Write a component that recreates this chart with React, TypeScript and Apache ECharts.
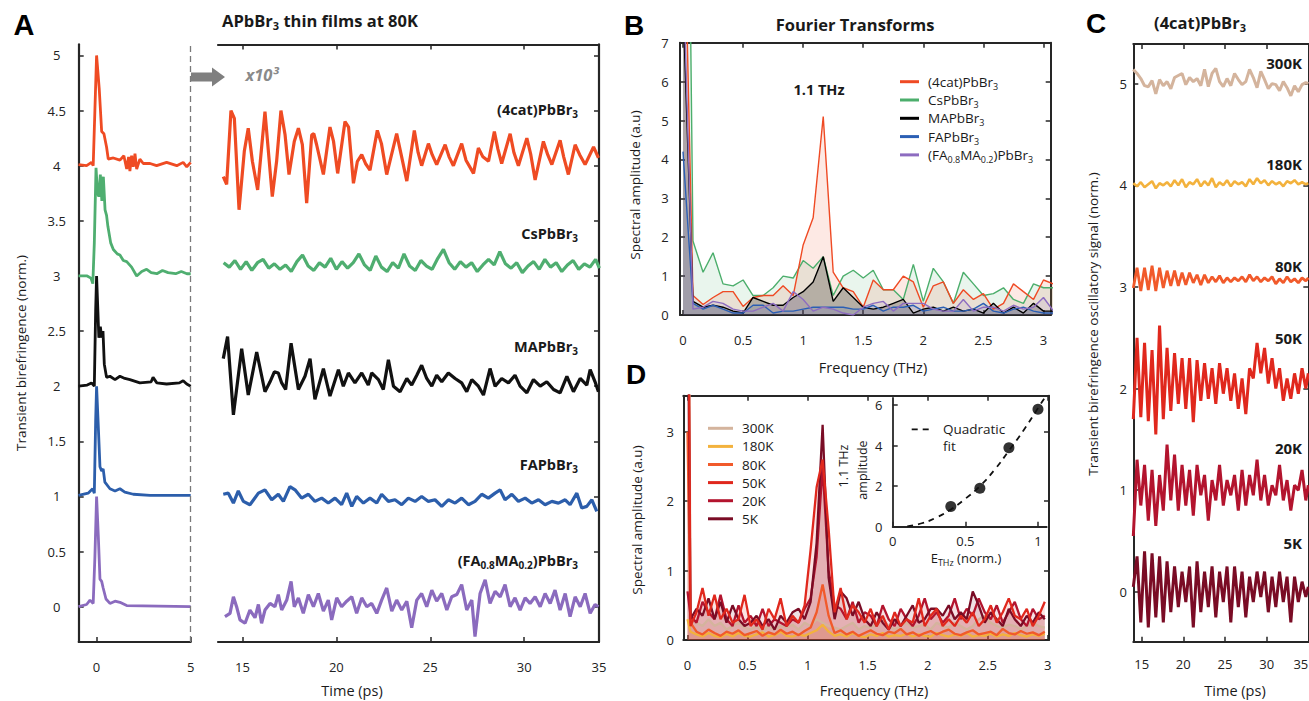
import React, { useEffect, useRef } from 'react';
import * as echarts from 'echarts';

const FF = '"Open Sans", "Noto Sans", sans-serif';
const LF = '"Liberation Sans", Arial, sans-serif';
const AX = '#262626';
const TXT = '#1a1a1a';

// colours
const colCat = '#ef4b23', colCs = '#4fae70', colMA = '#111111', colFA = '#2c5eab', colMix = '#8b6bbe';
const col300 = '#d4b49d', col180 = '#f3b23d', col80 = '#f15a2b', col50 = '#e0281d', col20 = '#b3142e', col5 = '#7a0c25';

// ---------- Panel A : 0-5 ps (time, signal)
const decayCat: number[][] = [[-0.96,4.01],[-0.53,4.0],[-0.27,4.03],[-0.18,4.0],[-0.09,4.5],[0,5.0],[0.14,4.7],[0.27,4.31],[0.39,4.29],[0.53,4.17],[0.62,4.06],[0.89,4.07],[1.24,4.05],[1.45,4.09],[1.6,3.97],[1.7,4.08],[1.77,3.95],[1.86,4.09],[1.95,3.99],[2.04,4.11],[2.13,3.97],[2.3,4.06],[2.48,4.02],[2.84,4.02],[3.19,4.0],[3.72,4.03],[4.26,4.0],[4.6,4.03],[4.79,3.99],[5.0,4.03]];
const decayCs: number[][] = [[-0.96,3.0],[-0.5,3.0],[-0.3,2.98],[-0.2,2.93],[-0.12,3.3],[-0.03,3.98],[0.05,3.75],[0.12,3.72],[0.2,3.92],[0.28,3.68],[0.36,3.9],[0.45,3.6],[0.53,3.55],[0.6,3.45],[0.75,3.3],[0.89,3.24],[1.1,3.2],[1.24,3.19],[1.42,3.14],[1.6,3.13],[1.86,3.08],[2.13,3.0],[2.4,3.04],[2.66,3.06],[2.9,3.03],[3.2,3.02],[3.5,3.05],[3.8,3.03],[4.2,3.02],[4.5,3.04],[4.8,3.02],[5.0,3.02]];
const decayMA: number[][] = [[-0.96,2.0],[-0.5,2.01],[-0.27,2.03],[-0.12,2.0],[-0.05,2.68],[0,3.0],[0.07,2.68],[0.12,2.44],[0.2,2.54],[0.27,2.44],[0.34,2.5],[0.41,2.2],[0.53,2.08],[0.71,2.09],[0.98,2.06],[1.24,2.09],[1.5,2.07],[1.77,2.06],[2.3,2.03],[2.9,2.04],[3.0,2.08],[3.2,2.03],[3.72,2.02],[4.4,2.03],[4.6,2.05],[4.79,2.02],[5.0,2.0]];
const decayFA: number[][] = [[-0.96,1.01],[-0.45,1.03],[-0.21,1.07],[-0.12,1.03],[-0.05,1.68],[0,2.0],[0.09,1.64],[0.18,1.27],[0.27,1.23],[0.35,1.25],[0.44,1.13],[0.71,1.07],[0.98,1.05],[1.24,1.07],[1.5,1.04],[1.95,1.02],[2.84,1.01],[5.0,1.01]];
const decayMix: number[][] = [[-0.96,0.0],[-0.53,0.02],[-0.35,0.06],[-0.18,0.03],[-0.09,0.45],[0,1.0],[0.09,0.65],[0.18,0.25],[0.27,0.23],[0.35,0.17],[0.5,0.07],[0.71,0.03],[0.98,0.05],[1.24,0.04],[1.6,0.01],[5.0,0.0]];

// ---------- Panel A : 14-34 ps (x10^3)
const oscCat: number[][] = [[13.98,3.9],[14.16,3.83],[14.39,4.5],[14.57,4.43],[14.82,3.6],[15.1,4.13],[15.31,4.34],[15.53,4.04],[15.81,3.78],[16.2,4.49],[16.59,3.72],[16.82,4.04],[17.05,4.5],[17.27,4.28],[17.48,3.92],[17.76,4.22],[17.98,4.34],[18.19,4.19],[18.42,3.66],[18.69,4.28],[18.8,4.29],[18.95,4.19],[19.31,3.92],[19.66,4.35],[19.85,4.22],[20.07,3.93],[20.46,4.4],[20.65,4.35],[20.91,3.84],[21.12,4.04],[21.35,4.1],[21.55,4.02],[21.79,3.96],[22.18,4.32],[22.4,4.2],[22.68,3.92],[23.21,4.29],[23.45,4.1],[23.75,3.86],[24.15,4.32],[24.35,4.12],[24.54,4.0],[24.9,4.2],[25.1,4.1],[25.34,4.01],[25.79,4.19],[26.0,4.08],[26.23,4.0],[26.67,4.2],[26.9,4.05],[27.3,3.93],[27.56,4.16],[27.8,4.08],[28.1,4.04],[28.41,4.31],[28.6,4.15],[28.8,4.02],[29.25,4.29],[29.45,4.12],[29.69,4.0],[30.14,4.25],[30.35,4.1],[30.58,3.87],[31.02,4.22],[31.25,4.1],[31.47,4.01],[31.91,4.23],[32.1,4.08],[32.35,3.92],[32.71,4.19],[32.95,4.1],[33.24,4.01],[33.69,4.17],[33.95,4.07]];
const oscCs: number[][] = [[14.0,3.12],[14.3,3.08],[14.6,3.14],[14.9,3.06],[15.2,3.13],[15.5,3.05],[15.8,3.12],[16.1,3.15],[16.4,3.07],[16.7,3.11],[17.0,3.06],[17.3,3.1],[17.6,3.04],[17.9,3.13],[18.2,3.19],[18.5,3.09],[18.8,3.05],[19.1,3.12],[19.4,3.08],[19.7,3.16],[20.0,3.06],[20.3,3.13],[20.6,3.07],[20.9,3.12],[21.2,3.2],[21.5,3.1],[21.8,3.05],[22.1,3.18],[22.4,3.08],[22.7,3.04],[23.0,3.12],[23.3,3.07],[23.6,3.2],[23.9,3.09],[24.2,3.05],[24.5,3.14],[24.8,3.09],[25.1,3.06],[25.4,3.16],[25.7,3.24],[26.0,3.12],[26.3,3.06],[26.6,3.13],[26.9,3.08],[27.2,3.12],[27.5,3.04],[27.8,3.1],[28.1,3.15],[28.4,3.1],[28.7,3.22],[29.0,3.11],[29.3,3.07],[29.6,3.12],[29.9,3.03],[30.2,3.09],[30.5,3.13],[30.8,3.06],[31.1,3.15],[31.4,3.08],[31.7,3.12],[32.0,3.04],[32.3,3.1],[32.6,3.14],[32.9,3.06],[33.2,3.11],[33.5,3.08],[33.8,3.15],[34.0,3.07]];
const oscMA: number[][] = [[13.98,2.25],[14.21,2.45],[14.52,1.74],[14.96,2.34],[15.31,1.92],[15.76,2.31],[16.2,1.95],[16.47,2.04],[16.7,2.13],[16.91,2.12],[17.09,2.03],[17.3,1.97],[17.59,2.39],[17.98,1.97],[18.33,2.09],[18.6,2.25],[18.86,1.88],[19.31,2.16],[19.66,1.91],[20.11,2.15],[20.37,2.0],[20.64,2.12],[20.99,2.03],[21.35,2.12],[21.7,2.01],[21.88,2.12],[22.24,2.06],[22.5,1.97],[22.77,2.24],[23.04,2.0],[23.39,1.95],[23.75,2.07],[24.01,2.01],[24.28,2.1],[24.54,2.19],[24.81,2.07],[25.08,2.0],[25.34,2.1],[25.61,2.04],[25.96,2.12],[26.32,2.07],[26.67,2.03],[26.94,1.95],[27.21,2.06],[27.56,2.0],[27.83,1.92],[28.18,2.16],[28.45,2.0],[28.8,2.07],[29.16,2.03],[29.51,2.1],[29.78,2.0],[30.14,1.94],[30.49,2.06],[30.85,2.0],[31.2,2.04],[31.56,1.97],[31.91,1.94],[32.27,2.09],[32.62,1.95],[32.98,2.07],[33.33,2.01],[33.51,2.15],[33.77,2.04],[33.95,1.95]];
const oscFA: number[][] = [[13.98,1.02],[14.25,1.03],[14.52,0.94],[14.78,1.05],[15.05,0.955],[15.4,0.925],[15.85,1.03],[16.2,1.06],[16.56,0.97],[16.91,1.02],[17.18,0.955],[17.53,1.09],[17.8,1.06],[18.15,0.985],[18.51,1.02],[18.86,0.955],[19.22,0.985],[19.57,0.94],[19.93,0.985],[20.28,0.925],[20.55,1.03],[20.82,0.91],[21.08,1.0],[21.44,0.94],[21.79,0.985],[22.15,0.94],[22.41,1.02],[22.77,0.955],[23.12,0.97],[23.48,0.925],[23.83,0.985],[24.19,0.955],[24.54,1.0],[24.9,0.955],[25.25,0.97],[25.61,0.91],[25.96,0.97],[26.32,0.94],[26.67,0.985],[27.03,0.925],[27.38,0.955],[27.74,1.02],[28.09,0.985],[28.45,1.03],[28.72,1.06],[28.98,0.97],[29.34,1.02],[29.69,0.955],[30.05,0.985],[30.4,0.94],[30.76,0.97],[31.11,0.925],[31.47,0.955],[31.82,0.94],[32.18,0.97],[32.44,0.925],[32.8,1.03],[33.06,0.895],[33.33,0.91],[33.6,0.97],[33.86,0.865]];
const oscMix: number[][] = [[14.07,-0.09],[14.34,-0.06],[14.52,0.09],[14.69,0.0],[14.87,-0.12],[15.14,-0.15],[15.4,-0.03],[15.67,-0.1],[15.85,0.02],[16.02,-0.15],[16.2,-0.03],[16.47,0.03],[16.73,0.0],[16.91,0.11],[17.09,-0.03],[17.36,0.06],[17.59,0.23],[17.76,0.0],[17.98,0.08],[18.24,-0.06],[18.51,0.11],[18.78,0.0],[19.04,0.12],[19.31,-0.04],[19.57,0.06],[19.75,-0.12],[20.02,0.08],[20.28,0.0],[20.55,0.05],[20.82,0.09],[21.08,-0.06],[21.35,0.08],[21.62,0.0],[21.88,0.03],[22.15,-0.06],[22.41,0.06],[22.68,0.17],[22.95,-0.04],[23.21,0.06],[23.48,-0.03],[23.75,0.05],[24.01,-0.19],[24.28,0.06],[24.54,0.12],[24.81,0.0],[25.08,0.15],[25.34,0.05],[25.61,0.12],[25.88,-0.03],[26.14,0.09],[26.41,0.11],[26.67,0.2],[26.94,-0.03],[27.21,0.06],[27.38,-0.27],[27.65,0.12],[27.92,0.245],[28.18,0.03],[28.45,0.14],[28.72,0.09],[28.98,0.2],[29.25,0.0],[29.51,0.08],[29.78,-0.03],[30.05,0.08],[30.31,0.03],[30.58,0.09],[30.85,0.0],[31.11,0.12],[31.38,0.03],[31.64,0.15],[31.91,-0.03],[32.18,0.12],[32.44,-0.09],[32.71,0.09],[32.98,0.0],[33.24,0.12],[33.51,-0.06],[33.77,0.02],[33.95,0.0]];

// ---------- Panel B : Fourier transforms
const fB = [0,0.083,0.167,0.25,0.333,0.417,0.5,0.583,0.667,0.75,0.833,0.917,1.0,1.083,1.167,1.25,1.333,1.417,1.5,1.583,1.667,1.75,1.833,1.917,2.0,2.083,2.167,2.25,2.333,2.417,2.5,2.583,2.667,2.75,2.833,2.917,3.0,3.083];
const ftCat = [12,0.5,0.27,0.45,0.6,0.6,0.22,0.45,0.5,0.5,0.75,0.5,1.8,2.5,5.1,1.1,0.7,0.6,0.2,0.9,0.65,0.65,1.0,0.85,0.2,0.75,0.85,0.3,0.65,0.4,0.55,0.15,0.3,0.8,0.6,0.4,0.9,0.8];
const ftCs = [25,1.9,1.1,1.6,0.8,0.75,0.9,0.5,0.5,0.7,1.0,0.95,1.4,1.2,1.5,0.5,1.0,1.15,0.95,1.15,0.65,0.65,0.4,1.3,0.35,1.2,0.85,0.3,1.1,0.8,0.5,0.55,0.7,0.4,0.3,0.8,0.7,0.7];
const ftMA = [8,0.35,0.2,0.25,0.2,0.1,0.05,0.45,0.35,0.25,0.25,0.45,0.6,0.85,1.5,0.35,0.7,0.45,0.2,0.15,0.2,0.3,0.4,0.05,0.15,0.2,0.1,0.2,0.1,0.15,0.05,0.3,0.05,0.2,0.05,0.3,0.1,0.1];
const ftFA = [4.2,0.3,0.15,0.25,0.15,0.05,0.05,0.25,0.25,0.05,0.1,0.1,0.15,0.2,0.2,0.2,0.2,0.15,0.15,0.25,0.1,0.2,0.2,0.25,0.1,0.15,0.2,0.1,0.1,0.15,0.3,0.1,0.05,0.15,0.2,0.1,0.05,0.05];
const ftMix = [9,0.15,0.2,0.35,0.3,0.15,0.1,0.1,0.2,0.3,0.1,0.6,0.4,0.1,0.2,0.15,0.05,0.0,0.2,0.3,0.35,0.1,0.3,0.3,0.3,0.15,0.1,0.1,0.4,0.1,0.2,0.2,0.1,0.25,0.15,0.2,0.45,0.1];
const namesB = ['(4cat)PbBr3','CsPbBr3','MAPbBr3','FAPbBr3','(FA0.8MA0.2)PbBr3'];

// ---------- Panel D : temperature spectra
const fD = [0,0.025,0.075,0.125,0.175,0.225,0.275,0.325,0.375,0.425,0.475,0.525,0.575,0.625,0.675,0.725,0.775,0.825,0.875,0.925,0.975,1.025,1.075,1.125,1.175,1.225,1.275,1.325,1.375,1.425,1.475,1.525,1.575,1.625,1.675,1.725,1.775,1.825,1.875,1.925,1.975,2.025,2.075,2.125,2.175,2.225,2.275,2.325,2.375,2.425,2.475,2.525,2.575,2.625,2.675,2.725,2.775,2.825,2.875,2.925,2.975];
const d300 = [10,0.3,0.25,0.2,0.3,0.2,0.25,0.15,0.2,0.25,0.18,0.15,0.2,0.12,0.2,0.15,0.2,0.18,0.22,0.15,0.25,0.2,0.3,0.25,0.2,0.18,0.15,0.2,0.25,0.15,0.2,0.18,0.22,0.3,0.2,0.15,0.2,0.25,0.18,0.2,0.22,0.15,0.25,0.2,0.18,0.25,0.2,0.15,0.2,0.3,0.35,0.25,0.2,0.18,0.22,0.2,0.15,0.2,0.25,0.2,0.18];
const d180 = [0.3,0.12,0.08,0.05,0.1,0.06,0.04,0.09,0.05,0.1,0.06,0.05,0.08,0.11,0.05,0.07,0.12,0.06,0.05,0.08,0.06,0.1,0.14,0.22,0.12,0.06,0.08,0.05,0.1,0.06,0.04,0.08,0.06,0.1,0.05,0.07,0.06,0.09,0.05,0.08,0.06,0.05,0.1,0.07,0.05,0.08,0.06,0.1,0.05,0.07,0.06,0.09,0.05,0.08,0.06,0.1,0.07,0.05,0.08,0.06,0.09];
const d80 = [3.0,0.25,0.12,0.08,0.15,0.1,0.06,0.12,0.09,0.14,0.07,0.1,0.13,0.06,0.11,0.08,0.15,0.09,0.12,0.07,0.13,0.18,0.4,0.8,0.35,0.1,0.14,0.08,0.12,0.06,0.1,0.14,0.09,0.07,0.12,0.1,0.16,0.08,0.11,0.06,0.1,0.13,0.08,0.12,0.15,0.09,0.07,0.11,0.14,0.08,0.1,0.12,0.07,0.16,0.1,0.08,0.13,0.09,0.11,0.07,0.12];
const d50 = [8,0.2,0.4,0.75,0.35,0.65,0.3,0.45,0.25,0.3,0.65,0.2,0.3,0.15,0.45,0.3,0.6,0.2,0.35,0.25,0.5,1.3,2.2,2.6,1.6,0.4,0.75,0.3,0.5,0.4,0.25,0.45,0.2,0.35,0.15,0.4,0.2,0.3,0.25,0.6,0.2,0.35,0.45,0.2,0.3,0.2,0.35,0.25,0.4,0.2,0.3,0.5,0.25,0.4,0.6,0.35,0.3,0.45,0.2,0.35,0.55];
const d20 = [0.7,0.35,0.25,0.55,0.4,0.3,0.65,0.3,0.2,0.5,0.25,0.35,0.2,0.45,0.2,0.3,0.25,0.2,0.3,0.25,0.45,0.6,1.2,2.5,1.0,0.5,0.45,0.3,0.55,0.25,0.4,0.35,0.2,0.5,0.3,0.2,0.45,0.3,0.2,0.35,0.6,0.3,0.4,0.25,0.35,0.6,0.3,0.45,0.35,0.6,0.4,0.3,0.5,0.25,0.4,0.55,0.3,0.2,0.45,0.3,0.35];
const d5 = [6,0.3,0.45,0.35,0.6,0.3,0.55,0.25,0.5,0.3,0.2,0.25,0.35,0.2,0.3,0.15,0.35,0.25,0.4,0.45,0.3,0.55,1.4,3.1,0.9,0.3,0.7,0.6,0.35,0.55,0.3,0.2,0.4,0.25,0.15,0.3,0.2,0.35,0.5,0.25,0.3,0.45,0.45,0.35,0.5,0.3,0.4,0.3,0.7,0.5,0.25,0.4,0.3,0.2,0.45,0.3,0.2,0.35,0.25,0.4,0.3];
const namesD = ['300K','180K','80K','50K','20K','5K'];

// inset
const insetE = [0.4,0.6,0.8,1.0];
const insetAmp = [1.0,1.9,3.9,5.8];
const fitE = [0.1,0.2,0.3,0.4,0.5,0.6,0.7,0.8,0.9,1.0,1.05];
const fitAmp = [0.02,0.17,0.45,0.85,1.38,2.0,2.8,3.75,4.75,5.85,6.4];

// ---------- Panel C : (4cat)PbBr3 vs temperature
const tC = [14.0,14.45,14.9,15.35,15.8,16.25,16.7,17.15,17.6,18.05,18.5,18.95,19.4,19.85,20.3,20.75,21.2,21.65,22.1,22.55,23.0,23.45,23.9,24.35,24.8,25.25,25.7,26.15,26.6,27.05,27.5,27.95,28.4,28.85,29.3,29.75,30.2,30.65,31.1,31.55,32.0,32.45,32.9,33.35,33.8,34.25,34.7,35.0];
const c300 = [5.14,5.1,5.05,4.98,4.97,5.03,4.9,5.04,4.98,5.02,4.95,5.06,5.08,5.1,4.99,5.06,5.02,5.05,4.98,5.14,4.97,5.1,5.15,5.02,4.97,5.05,4.98,5.1,5.04,4.99,5.02,5.14,5.06,4.96,5.12,5.04,4.95,5.0,4.99,4.93,5.02,4.96,4.88,4.98,4.92,4.99,5.01,5.0];
const c180 = [4.02,3.99,4.03,3.98,4.01,4.04,3.97,4.02,4.0,4.03,3.99,4.05,4.0,4.06,3.98,4.03,4.01,4.06,3.99,4.04,4.0,4.07,3.98,4.03,4.0,4.05,3.99,4.04,4.01,4.03,3.99,4.06,4.01,4.07,4.02,4.05,4.0,4.04,4.01,4.03,3.99,4.04,4.02,4.05,4.01,4.03,4.01,4.02];
const c80 = [2.99,3.19,2.96,3.19,2.97,3.21,2.96,3.19,2.99,3.16,3.01,3.16,3.01,3.14,3.02,3.14,3.04,3.12,3.02,3.12,3.04,3.1,3.05,3.11,3.04,3.09,3.05,3.09,3.06,3.1,3.05,3.12,3.06,3.1,3.05,3.09,3.06,3.1,3.03,3.08,3.04,3.1,3.05,3.08,3.04,3.09,3.06,3.09];
const c50 = [1.7,2.5,1.72,2.45,1.68,2.38,1.55,2.62,1.7,2.4,1.78,2.35,1.85,2.3,1.8,2.3,1.67,2.28,1.88,2.25,1.9,2.2,1.85,2.25,1.95,2.2,1.88,2.15,1.8,2.1,1.75,2.2,2.1,2.45,2.15,2.4,2.05,2.3,2.0,2.2,1.88,2.1,1.9,2.15,1.95,2.2,2.0,2.15];
const c20 = [0.55,1.3,0.85,1.25,0.7,1.2,0.65,1.15,0.8,1.45,0.9,1.35,0.8,1.25,0.85,1.2,0.75,1.25,0.95,1.15,0.7,1.1,0.9,1.25,0.85,1.1,0.95,1.15,0.8,1.2,0.85,1.15,0.95,1.3,0.9,1.15,0.85,1.05,0.95,1.25,0.9,1.1,0.8,1.05,1.0,1.2,0.9,1.05];
const c5 = [0.05,0.35,-0.3,0.4,-0.35,0.38,-0.25,0.35,-0.3,0.3,-0.2,0.25,-0.15,0.2,-0.1,0.25,-0.35,0.3,-0.2,0.2,-0.15,0.25,-0.25,0.2,-0.1,0.25,-0.3,0.25,-0.15,0.2,-0.25,0.15,-0.1,0.2,-0.05,0.2,-0.2,0.15,-0.15,0.2,-0.1,0.15,-0.3,0.15,-0.1,0.1,-0.05,0.05];

// tick values
const ticksAy = [0,0.5,1,1.5,2,2.5,3,3.5,4,4.5,5];
const ticksAxLeft = [0,5];
const ticksAxRight = [15,20,25,30];
const labelsAxRight = [15,20,25,30,33.98];
const ticksFreq = [0,0.5,1,1.5,2,2.5,3];
const ticksBy = [0,1,2,3,4,5,6,7];
const ticksDy = [0,1,2,3];
const ticksInsetX = [0,0.5,1];
const ticksInsetY = [0,2,4,6];
const ticksCx = [15,20,25,30,35];
const ticksCy = [0,1,2,3,4,5];

const zip = (xs: number[], ys: number[]) => xs.map((x, i) => [x, ys[i]]);

const richSub = (size: number, weight: string, lh: number) => ({
  n: { fontSize: size, fontWeight: weight, fontFamily: FF, fill: TXT, color: TXT, lineHeight: lh },
  s: { fontSize: Math.round(size * 0.68), fontWeight: weight, fontFamily: FF, fill: TXT, color: TXT, lineHeight: Math.round(size * 0.68) + 1, verticalAlign: 'bottom' },
});

const richName: Record<string, string> = {
  '(4cat)PbBr3': '{n|(4cat)PbBr}{s|3}',
  'CsPbBr3': '{n|CsPbBr}{s|3}',
  'MAPbBr3': '{n|MAPbBr}{s|3}',
  'FAPbBr3': '{n|FAPbBr}{s|3}',
  '(FA0.8MA0.2)PbBr3': '{n|(FA}{s|0.8}{n|MA}{s|0.2}{n|)PbBr}{s|3}',
};

const labelStyle = { fontSize: 13, color: '#222', fontFamily: FF };

function xAx(gridIndex: number, min: number, max: number, ticks: number[] | null, labels: number[] | null, o: any = {}) {
  return {
    type: 'value', gridIndex, min, max, position: o.top ? 'top' : 'bottom',
    axisLine: { show: true, onZero: false, lineStyle: { color: AX, width: o.lw ?? 2 } },
    axisTick: ticks ? { show: true, inside: true, length: 5, customValues: ticks, lineStyle: { color: AX, width: 1.5 } } : { show: false },
    axisLabel: labels ? { show: true, customValues: labels, margin: o.margin ?? 16, ...labelStyle, formatter: o.fmt, alignMaxLabel: o.alignMax } : { show: false },
    splitLine: { show: false },
  };
}
function yAx(gridIndex: number, min: number, max: number, ticks: number[] | null, labels: number[] | null, o: any = {}) {
  return {
    type: 'value', gridIndex, min, max, position: o.right ? 'right' : 'left',
    axisLine: { show: true, onZero: false, lineStyle: { color: AX, width: o.lw ?? 2 } },
    axisTick: ticks ? { show: true, inside: true, length: 5, customValues: ticks, lineStyle: { color: AX, width: 1.5 } } : { show: false },
    axisLabel: labels ? { show: true, customValues: labels, margin: o.margin ?? 14, align: 'center', ...labelStyle } : { show: false },
    splitLine: { show: false },
  };
}

function line(name: string, xi: number, yi: number, data: number[][], color: string, width: number, area?: number, extra: any = {}) {
  return {
    type: 'line', name, xAxisIndex: xi, yAxisIndex: yi, data, color,
    showSymbol: false, symbol: 'none', silent: true, clip: true,
    lineStyle: { color, width },
    itemStyle: { color },
    areaStyle: area ? { color, opacity: area } : undefined,
    ...extra,
  };
}

function gText(x: number, y: number, text: string, o: any = {}) {
  return {
    type: 'text', x, y, rotation: o.rot ?? 0, silent: true, z: 50,
    style: {
      text, fill: o.color ?? TXT,
      fontSize: o.size ?? 13, fontWeight: o.weight ?? 'normal', fontStyle: o.italic ? 'italic' : 'normal',
      fontFamily: o.family ?? FF, align: o.align ?? 'center', verticalAlign: 'middle',
      rich: o.rich,
    },
  };
}

function buildOption() {
  const grids = [
    { left: 78.7, top: 44.4, width: 112, height: 597.6 },
    { left: 218, top: 44.4, width: 381, height: 597.6 },
    { left: 680, top: 42.7, width: 370.7, height: 272.3 },
    { left: 683.3, top: 395.7, width: 365.7, height: 244.3 },
    { left: 892.7, top: 398, width: 154, height: 128.7 },
    { left: 1133.3, top: 44, width: 175, height: 597.7 },
  ].map((g) => ({ ...g, containLabel: false, outerBoundsMode: 'none' }));

  const xAxis = [
    xAx(0, -0.95, 5, ticksAxLeft, ticksAxLeft, { margin: 18, lw: 2.2 }),
    xAx(1, 13.7, 33.98, ticksAxRight, labelsAxRight, { margin: 18, lw: 2.2, fmt: (v: number) => (v > 33 ? '35' : String(v)) }),
    xAx(1, 13.7, 33.98, ticksAxRight, null, { top: true, lw: 2.2 }),
    xAx(2, -0.025, 3.06, ticksFreq, ticksFreq, { margin: 18 }),
    xAx(2, -0.025, 3.06, ticksFreq, null, { top: true }),
    xAx(3, -0.035, 3.01, ticksFreq, ticksFreq, { margin: 18 }),
    xAx(3, -0.035, 3.01, ticksFreq, null, { top: true }),
    xAx(4, 0, 1.06, ticksInsetX, ticksInsetX, { margin: 8, lw: 1.8 }),
    xAx(5, 14, 35, ticksCx, ticksCx, { margin: 16, alignMax: 'right' }),
    xAx(5, 14, 35, ticksCx, null, { top: true }),
  ];
  const yAxis = [
    yAx(0, -0.32, 5.1, ticksAy, ticksAy, { margin: 22, lw: 2.2 }),
    yAx(1, -0.32, 5.1, ticksAy, null, { right: true, lw: 2.2 }),
    yAx(2, 0, 7, ticksBy, ticksBy, { margin: 15 }),
    yAx(2, 0, 7, ticksBy, null, { right: true }),
    yAx(3, 0, 3.52, ticksDy, ticksDy, { margin: 13 }),
    yAx(3, 0, 3.52, ticksDy, null, { right: true }),
    yAx(4, 0, 6.35, ticksInsetY, ticksInsetY, { margin: 14, lw: 1.8 }),
    yAx(5, -0.49, 5.39, ticksCy, ticksCy, { margin: 10 }),
    yAx(5, -0.49, 5.39, ticksCy, null, { right: true }),
  ];

  const series: any[] = [
    // A left (0-5 ps)
    line('A decay (4cat)', 0, 0, decayCat, colCat, 2.8, 0, {
      markLine: { silent: true, symbol: ['none', 'none'], label: { show: false }, lineStyle: { color: '#7a7a7a', type: [6, 4], width: 1.3 }, data: [{ xAxis: 5 }] },
    }),
    line('A decay Cs', 0, 0, decayCs, colCs, 2.8),
    line('A decay MA', 0, 0, decayMA, colMA, 2.8),
    line('A decay FA', 0, 0, decayFA, colFA, 2.8),
    line('A decay mix', 0, 0, decayMix, colMix, 2.8),
    // A right (x10^3)
    line('A osc (4cat)', 1, 1, oscCat, colCat, 3.2),
    line('A osc Cs', 1, 1, oscCs, colCs, 3.2),
    line('A osc MA', 1, 1, oscMA, colMA, 3.2),
    line('A osc FA', 1, 1, oscFA, colFA, 3.2),
    line('A osc mix', 1, 1, oscMix, colMix, 3.2),
    // B
    line('CsPbBr3', 3, 2, zip(fB, ftCs), '#4cae6c', 1.4, 0.12),
    line('(4cat)PbBr3', 3, 2, zip(fB, ftCat), '#ef4a24', 1.4, 0.12),
    line('MAPbBr3', 3, 2, zip(fB, ftMA), '#000000', 1.4, 0.22),
    line('FAPbBr3', 3, 2, zip(fB, ftFA), '#2b5fb4', 1.4, 0.12),
    line('(FA0.8MA0.2)PbBr3', 3, 2, zip(fB, ftMix), '#8d6cc0', 1.4, 0.12),
    // D
    line('300K', 5, 4, zip(fD, d300), col300, 2.3, 0.12),
    line('180K', 5, 4, zip(fD, d180), col180, 2.3, 0.12),
    line('80K', 5, 4, zip(fD, d80), col80, 2.3, 0.12),
    line('20K', 5, 4, zip(fD, d20), col20, 2.3, 0.13),
    line('5K', 5, 4, zip(fD, d5), col5, 2.3, 0.13),
    line('50K', 5, 4, zip(fD, d50), col50, 2.3, 0.13),
    // inset
    line('Quadratic fit', 7, 6, zip(fitE, fitAmp), '#111', 1.8, 0, { smooth: true, lineStyle: { color: '#111', width: 1.8, type: [6, 5] } }),
    { type: 'scatter', name: '1.1 THz amplitude', xAxisIndex: 7, yAxisIndex: 6, data: zip(insetE, insetAmp), symbolSize: 11, itemStyle: { color: '#000' }, silent: true },
    // C
    line('C 300K', 8, 7, zip(tC, c300), col300, 3.0),
    line('C 180K', 8, 7, zip(tC, c180), col180, 2.6),
    line('C 80K', 8, 7, zip(tC, c80), col80, 2.8),
    line('C 50K', 8, 7, zip(tC, c50), col50, 3.0),
    line('C 20K', 8, 7, zip(tC, c20), col20, 3.0),
    line('C 5K', 8, 7, zip(tC, c5), col5, 3.0),
  ];

  const legendRich = richSub(13.5, 'normal', 18);
  const legend = [
    {
      data: namesB, orient: 'vertical', left: 900, top: 72.7, padding: 0, itemGap: 0.3,
      icon: 'rect', itemWidth: 19, itemHeight: 3, selectedMode: false,
      textStyle: { fontSize: 13.5, fontFamily: FF, color: TXT, lineHeight: 18, padding: [0, 0, 0, 4], rich: legendRich },
      formatter: (n: string) => richName[n] ?? n,
    },
    {
      data: namesD, orient: 'vertical', left: 708, top: 419.3, padding: 0, itemGap: 0.1,
      icon: 'rect', itemWidth: 25, itemHeight: 3, selectedMode: false,
      textStyle: { fontSize: 13.5, fontFamily: FF, color: TXT, lineHeight: 18, padding: [0, 0, 0, 4] },
    },
  ];

  const boldLbl = richSub(14.5, 'bold', 19);
  const boldTitle = richSub(16.5, 'bold', 21);
  const norm13 = richSub(13, 'normal', 18);

  const graphic = [
    // panel letters
    gText(24, 25, 'A', { size: 29, weight: 'bold', family: LF, color: '#000' }),
    gText(634, 25, 'B', { size: 28, weight: 'bold', family: LF, color: '#000' }),
    gText(1096, 23, 'C', { size: 28, weight: 'bold', family: LF, color: '#000' }),
    gText(636, 374, 'D', { size: 28, weight: 'bold', family: LF, color: '#000' }),
    // titles
    gText(320, 20, '{n|APbBr}{s|3}{n| thin films at 80K}', { rich: boldTitle }),
    gText(855, 24, 'Fourier Transforms', { size: 16.5, weight: 'bold' }),
    gText(1200, 22, '{n|(4cat)PbBr}{s|3}', { rich: boldTitle }),
    // axis names
    gText(21, 353, 'Transient birefringence (norm.)', { rot: Math.PI / 2, size: 13.5 }),
    gText(352, 690, 'Time (ps)', { size: 14.5 }),
    gText(635, 185, 'Spectral amplitude (a.u)', { rot: Math.PI / 2, size: 13.5 }),
    gText(873, 367, 'Frequency (THz)', { size: 14.5 }),
    gText(637, 520, 'Spectral amplitude (a.u)', { rot: Math.PI / 2, size: 13.5 }),
    gText(874, 690, 'Frequency (THz)', { size: 14.5 }),
    gText(1093, 324, 'Transient birefringence oscillatory signal (norm.)', { rot: Math.PI / 2, size: 13.5 }),
    gText(1235, 690, 'Time (ps)', { size: 14.5 }),
    // inset names
    gText(843, 466, '1.1 THz', { rot: Math.PI / 2, size: 12.5 }),
    gText(862, 470, 'amplitude', { rot: Math.PI / 2, size: 12.5 }),
    gText(966, 558, '{n|E}{s|THz}{n| (norm.)}', { rich: norm13 }),
    // inset legend
    { type: 'line', silent: true, z: 50, shape: { x1: 911.7, y1: 429.3, x2: 932.7, y2: 429.3 }, style: { stroke: '#111', lineWidth: 1.8, lineDash: [6, 5] } },
    gText(943, 429, 'Quadratic', { align: 'left', size: 13.5 }),
    gText(943, 446, 'fit', { align: 'left', size: 13.5 }),
    // annotations
    gText(819, 89, '1.1 THz', { size: 14.5, weight: 'bold' }),
    { type: 'polygon', silent: true, z: 50, shape: { points: [[191, 72.5], [212, 72.5], [212, 67.5], [225, 77], [212, 86.5], [212, 81.5], [191, 81.5]] }, style: { fill: '#7f7f7f' } },
    gText(262, 74, 'x10³', { size: 16.5, weight: 'bold', italic: true, color: '#8a8a8a' }),
    // trace labels A
    gText(578, 109, richName['(4cat)PbBr3'], { align: 'right', rich: boldLbl }),
    gText(578, 233, richName['CsPbBr3'], { align: 'right', rich: boldLbl }),
    gText(578, 346, richName['MAPbBr3'], { align: 'right', rich: boldLbl }),
    gText(578, 464, richName['FAPbBr3'], { align: 'right', rich: boldLbl }),
    gText(578, 560, richName['(FA0.8MA0.2)PbBr3'], { align: 'right', rich: boldLbl }),
    // trace labels C
    gText(1302, 62.5, '300K', { align: 'right', size: 15, weight: 'bold' }),
    gText(1302, 164, '180K', { align: 'right', size: 15, weight: 'bold' }),
    gText(1302, 266, '80K', { align: 'right', size: 15, weight: 'bold' }),
    gText(1302, 338, '50K', { align: 'right', size: 15, weight: 'bold' }),
    gText(1302, 447.5, '20K', { align: 'right', size: 15, weight: 'bold' }),
    gText(1302, 542.5, '5K', { align: 'right', size: 15, weight: 'bold' }),
  ];

  return {
    animation: false,
    backgroundColor: '#ffffff',
    textStyle: { fontFamily: FF },
    grid: grids,
    xAxis,
    yAxis,
    legend,
    series,
    graphic,
  };
}

export default function App() {
  const ref = useRef<HTMLDivElement>(null);
  useEffect(() => {
    if (!ref.current) return;
    const chart = echarts.init(ref.current, null, { renderer: 'svg' });
    chart.setOption(buildOption() as any);
    return () => chart.dispose();
  }, []);
  return (
    <div
      ref={ref}
      style={{ position: 'fixed', left: 0, top: 0, width: 1309, height: 701, background: '#fff' }}
    />
  );
}
